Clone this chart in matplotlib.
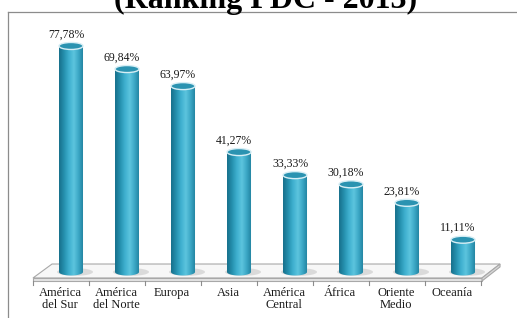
import matplotlib.pyplot as plt
import numpy as np
from matplotlib.patches import Ellipse, Polygon, PathPatch
from matplotlib.path import Path
from matplotlib.colors import LinearSegmentedColormap

regions = ["América\ndel Sur", "América\ndel Norte", "Europa", "Asia",
           "América\nCentral", "África", "Oriente\nMedio", "Oceanía"]
values = [77.78, 69.84, 63.97, 41.27, 33.33, 30.18, 23.81, 11.11]
value_labels = ["77,78%", "69,84%", "63,97%", "41,27%",
                "33,33%", "30,18%", "23,81%", "11,11%"]

plt.rcParams['font.family'] = ['Liberation Serif', 'DejaVu Serif']

fig = plt.figure(figsize=(5.17, 3.18), dpi=100)
ax = fig.add_axes([0, 0, 1, 1])
ax.set_xlim(-1.268, 7.964)
ax.set_ylim(-15.83, 93.6)
ax.axis('off')

# px -> data helpers (56 px per category, 2.906 px per percent)
dx = 1 / 56.0
dy = 1 / 2.906

w = 24 * dx          # bar width
eh = 7 * dy          # ellipse height
depth = 11 * dx      # bars sit back from the front edge

# floor
y_front, y_back, y_bot = -2.06, 2.75, -3.1
x_fl, x_bl = -0.679, -0.339
x_fr, x_br = 7.339, 7.661
floor = Polygon([(x_fl, y_front), (x_bl, y_back), (x_br, y_back), (x_fr, y_front)],
                closed=True, facecolor='#f7f7f7', edgecolor='#a8a8a8', lw=0.8, zorder=1)
ax.add_patch(floor)
side = Polygon([(x_fl, y_front), (x_fr, y_front), (x_fr, y_bot), (x_fl, y_bot)],
               closed=True, facecolor='#e4e4e4', edgecolor='#a8a8a8', lw=0.8, zorder=1)
ax.add_patch(side)
side2 = Polygon([(x_fr, y_front), (x_br, y_back), (x_br, y_back - 1.0), (x_fr, y_bot)],
                closed=True, facecolor='#d8d8d8', edgecolor='#a8a8a8', lw=0.8, zorder=1)
ax.add_patch(side2)

# ticks under floor
for k in range(len(regions) + 1):
    xt = x_fl + k
    ax.plot([xt, xt], [y_bot, y_bot - 4 * dy], color='#8c8c8c', lw=0.8, zorder=1)

cmap = LinearSegmentedColormap.from_list(
    'cyl', ['#17708c', '#2590ae', '#3fb0cf', '#5cc4de', '#3aa6c4', '#1f7f9c'])
grad = np.linspace(0, 1, 64).reshape(1, -1)

for i, v in enumerate(values):
    xc = i
    x0, x1 = xc - w / 2, xc + w / 2
    # shadow on floor
    ax.add_patch(Ellipse((xc + 4 * dx, 0), w * 1.5, eh * 1.1, facecolor='#c8c8c8',
                         edgecolor='none', alpha=0.6, zorder=2))
    # body outline: rectangle + lower half ellipse
    t = np.linspace(np.pi, 2 * np.pi, 40)
    bx = xc + w / 2 * np.cos(t)
    by = eh / 2 * np.sin(t)
    verts = [(x0, v)] + list(zip(bx, by)) + [(x1, v), (x0, v)]
    path = Path(verts)
    body = PathPatch(path, facecolor='none', edgecolor='none', zorder=3)
    ax.add_patch(body)
    im = ax.imshow(grad, cmap=cmap, extent=[x0, x1, -eh, v], aspect='auto', zorder=3)
    im.set_clip_path(body)
    # top cap
    ax.add_patch(Ellipse((xc, v), w, eh, facecolor='#2b93b1', edgecolor='#d6eef5',
                         lw=1.0, zorder=4))
    ax.text(xc - 5 * dx, v + eh / 2 + 2 * dy, value_labels[i], ha='center', va='bottom',
            fontsize=8.5, color='#1a1a1a', zorder=5)

# category labels
for i, lab in enumerate(regions):
    ax.text(i - depth, -15 * dy, lab, ha='center', va='top', fontsize=9,
            linespacing=1.0, color='#1a1a1a')

# chart border (top and left visible)
fig.add_artist(plt.Line2D([8 / 517, 8 / 517], [0, 1 - 12 / 318],
                          transform=fig.transFigure, color='#8c8c8c', lw=0.9))
fig.add_artist(plt.Line2D([8 / 517, 1], [1 - 12 / 318, 1 - 12 / 318],
                          transform=fig.transFigure, color='#8c8c8c', lw=0.9))

fig.text(266 / 517, 1 - 8 / 318, "(Ranking PDC - 2013)", ha='center', va='baseline',
         fontsize=23, fontweight='bold', color='black')

fig.savefig("out.png", dpi=100)
